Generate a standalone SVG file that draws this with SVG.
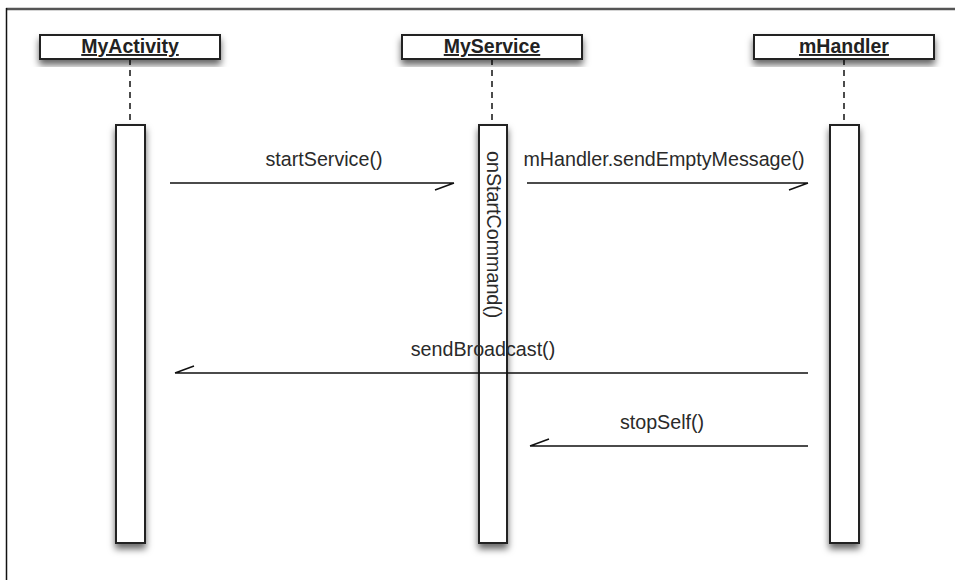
<svg xmlns="http://www.w3.org/2000/svg" width="955" height="580" viewBox="0 0 955 580">
<defs>
<filter id="sh" x="-40%" y="-30%" width="180%" height="160%">
<feDropShadow dx="0" dy="5" stdDeviation="3.5" flood-color="#000" flood-opacity="0.6"/>
</filter>
<style>
.box{fill:#fff;stroke:#222;stroke-width:2;filter:url(#sh)}
.act{fill:#fff;stroke:#222;stroke-width:2;filter:url(#sh)}
.life{stroke:#111;stroke-width:1.5;stroke-dasharray:6,5;fill:none}
.hdr{font-family:"Liberation Sans",Arial,sans-serif;font-size:19.5px;font-weight:bold;text-decoration:underline;fill:#222;text-anchor:middle}
.lbl{font-family:"Liberation Sans",Arial,sans-serif;font-size:19.7px;fill:#2a2a2a;text-anchor:middle}
.msg{stroke:#111;stroke-width:1.5;fill:none}
</style>
</defs>
<rect width="955" height="580" fill="#fff"/>
<line x1="6" y1="9" x2="955" y2="9" stroke="#555" stroke-width="2.5"/>
<line x1="6.5" y1="8" x2="6.5" y2="580" stroke="#111" stroke-width="1.5"/>

<g id="MyActivity">
<line class="life" x1="130" y1="59" x2="130" y2="125"/>
<rect class="box" x="40" y="35" width="180" height="24"/>
<text class="hdr" x="130" y="53">MyActivity</text>
<rect class="act" x="116" y="125" width="29" height="418"/>
</g>
<g id="MyService">
<line class="life" x1="492" y1="59" x2="492" y2="125"/>
<rect class="box" x="402" y="35" width="180" height="24"/>
<text class="hdr" x="492" y="53">MyService</text>
<rect class="act" x="479" y="125" width="28" height="418"/>
<text class="lbl" style="text-anchor:start" transform="translate(487,151) rotate(90)">onStartCommand()</text>
</g>
<g id="mHandler">
<line class="life" x1="844" y1="59" x2="844" y2="125"/>
<rect class="box" x="754" y="35" width="180" height="24"/>
<text class="hdr" x="844" y="53">mHandler</text>
<rect class="act" x="830" y="125" width="29" height="418"/>
</g>

<g id="connectors">
<path class="msg" d="M170,183 H454 M454,183 L435,190"/>
<text class="lbl" x="324" y="166">startService()</text>
<path class="msg" d="M527,183 H808 M808,183 L789,190"/>
<text class="lbl" x="664" y="166">mHandler.sendEmptyMessage()</text>
<path class="msg" d="M808,373 H175 M175,373 L194,366"/>
<text class="lbl" x="483" y="356">sendBroadcast()</text>
<path class="msg" d="M808,446 H530 M530,446 L549,439"/>
<text class="lbl" x="662" y="429">stopSelf()</text>
</g>
</svg>
